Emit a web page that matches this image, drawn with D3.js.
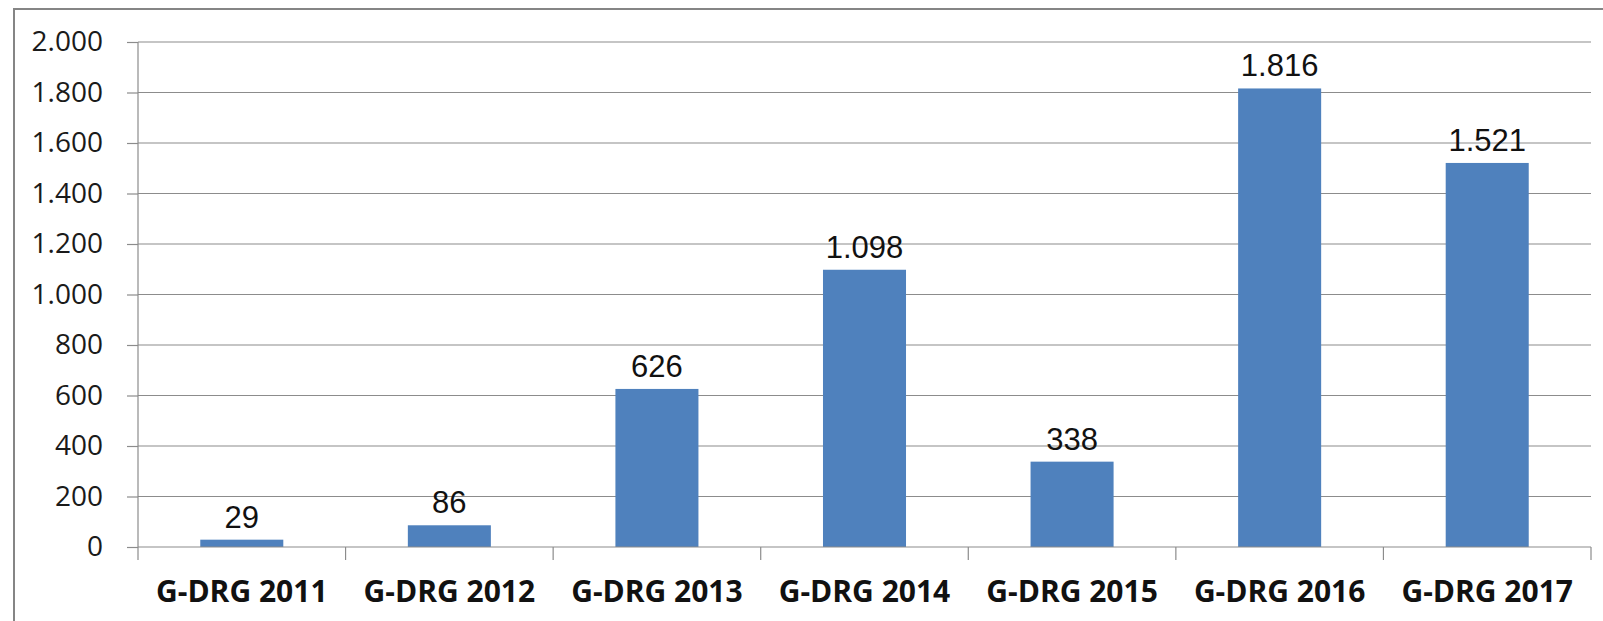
<!DOCTYPE html>
<html><head><meta charset="utf-8">
<script src="https://cdn.jsdelivr.net/npm/d3@7"></script>
<style>html,body{margin:0;padding:0;background:#fff;overflow:hidden}</style>
</head><body>
<svg id="c" width="1603" height="621"></svg>
<script>
const categories = ["G-DRG 2011","G-DRG 2012","G-DRG 2013","G-DRG 2014","G-DRG 2015","G-DRG 2016","G-DRG 2017"];
const values = [29, 86, 626, 1098, 338, 1816, 1521];
const yTicks = [0,200,400,600,800,1000,1200,1400,1600,1800,2000];

(function(){
const svg = d3.select("#c");
svg.append("rect").attr("x",0).attr("y",0).attr("width",1603).attr("height",621).attr("fill","#fff");
svg.append("rect").attr("x",14).attr("y",9).attr("width",1620).attr("height",640)
  .attr("fill","none").attr("stroke","#858585").attr("stroke-width",2);

const pL = 138, pR = 1591, pT = 42, pB = 547;
const x = d3.scaleBand().domain(categories).range([pL,pR]).paddingInner(0.6).paddingOuter(0.3);
const xTick = d3.scaleBand().domain(categories).range([pL,pR]).padding(0);
const y = d3.scaleLinear().domain([0,2000]).range([pB,pT]);
const fmt = v => d3.format(",")(v).replace(/,/g,".");

svg.append("g").selectAll("line").data(yTicks.filter(d=>d>0)).join("line")
  .attr("x1",pL).attr("x2",pR).attr("y1",d=>y(d)).attr("y2",d=>y(d))
  .attr("stroke","#8c8c8c").attr("stroke-width",1.2);

const ya = svg.append("g").attr("transform",`translate(${pL},0)`)
  .call(d3.axisLeft(y).tickValues(yTicks).tickFormat(fmt).tickSize(11).tickPadding(24));
ya.select(".domain").attr("stroke","#8c8c8c").attr("stroke-width",1.2).attr("d",`M0,${pT}V${pB}`);
ya.selectAll(".tick line").attr("stroke","#8c8c8c").attr("stroke-width",1.2);
ya.selectAll(".tick text").attr("font-family","'Open Sans', sans-serif").attr("font-size",28).attr("fill","#1a1a1a");

svg.append("g").selectAll("rect").data(values).join("rect")
  .attr("x",(d,i)=>x(categories[i])).attr("width",x.bandwidth())
  .attr("y",d=>y(d)).attr("height",d=>pB-y(d)).attr("fill","#4F81BD");

const xa = svg.append("g").attr("transform",`translate(0,${pB})`)
  .call(d3.axisBottom(xTick).tickValues([]).tickSizeOuter(0));
xa.select(".domain").attr("stroke","#8c8c8c").attr("stroke-width",1.2).attr("d",`M${pL},0H${pR}`);
const tickPos = categories.map(c=>xTick(c)).concat([pR]);
xa.selectAll(".xt").data(tickPos).join("line").attr("class","xt")
  .attr("x1",d=>d).attr("x2",d=>d).attr("y1",0).attr("y2",13)
  .attr("stroke","#8c8c8c").attr("stroke-width",1.2);
xa.selectAll(".xl").data(categories).join("text").attr("class","xl")
  .attr("x",d=>xTick(d)+xTick.bandwidth()/2).attr("y",55)
  .attr("text-anchor","middle").attr("font-family","'Open Sans', sans-serif")
  .attr("font-weight","bold").attr("font-size",30).attr("fill","#111").text(d=>d);

svg.append("g").selectAll("text").data(values).join("text")
  .attr("x",(d,i)=>x(categories[i])+x.bandwidth()/2).attr("y",d=>y(d)-12)
  .attr("text-anchor","middle").attr("font-family","'Liberation Sans', Arial, sans-serif")
  .attr("font-size",31).attr("fill","#111").text(d=>fmt(d));
})();
</script>
</body></html>
